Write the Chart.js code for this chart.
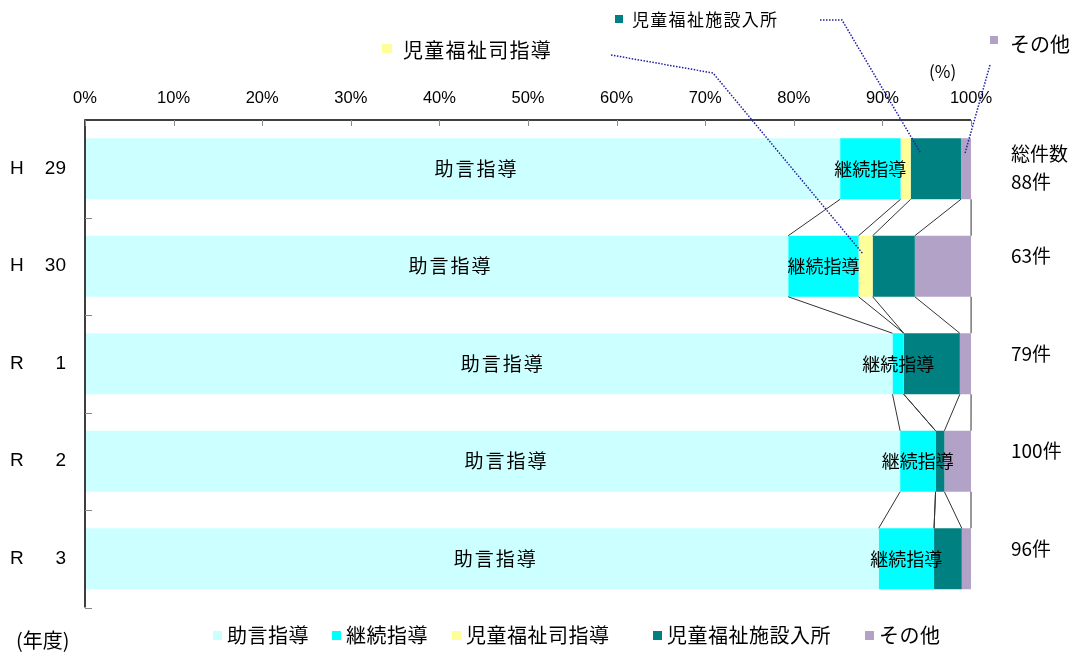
<!DOCTYPE html>
<html lang="ja">
<head>
<meta charset="utf-8">
<title>指導結果の推移</title>
<script src="https://cdn.jsdelivr.net/npm/chart.js@4.4.0/dist/chart.umd.min.js"></script>
<style>
  html, body { margin: 0; padding: 0; background: #fff; }
  #chart { display: block; }
</style>
</head>
<body>
<canvas id="chart" width="1078" height="652"></canvas>
<script>
// 年度 (元号 + 年)
const yearEra = ["H", "H", "R", "R", "R"];
const yearNum = ["29", "30", "1", "2", "3"];
const years = ["H29", "H30", "R1", "R2", "R3"];

// 総件数
const totals = [88, 63, 79, 100, 96];

// 割合 (%)
const jogen = [85.23, 79.37, 91.14, 92.0, 89.58];      // 助言指導
const keizoku = [6.82, 7.94, 1.27, 4.0, 6.25];         // 継続指導
const jifukushi = [1.14, 1.59, 0, 0, 0];               // 児童福祉司指導
const shisetsu = [5.68, 4.76, 6.33, 1.0, 3.13];        // 児童福祉施設入所
const sonota = [1.14, 6.35, 1.27, 3.0, 1.04];          // その他

// 目盛
const xTickValues = [0, 10, 20, 30, 40, 50, 60, 70, 80, 90, 100];

const F = '"Noto Sans CJK JP", "Noto Sans", sans-serif';
const FL = '"Liberation Sans", Arial, sans-serif';

function txt(ctx, s, x, y, size, align, spacing, family) {
    ctx.font = size + "px " + (family || F);
    ctx.textAlign = align || "left";
    ctx.textBaseline = "middle";
    ctx.letterSpacing = (spacing || 0) + "px";
    ctx.fillStyle = "#000";
    ctx.fillText(s, x, y);
    ctx.letterSpacing = "0px";
}

function seg(chart, ds, i) {
    return chart.getDatasetMeta(ds).data[i].getProps(["x", "y", "base", "height"], true);
}

// 系列線・ラベル・軸など
const decorations = {
    id: "decorations",
    afterDatasetsDraw(chart) {
        const ctx = chart.ctx;
        const area = chart.chartArea;
        const xs = chart.scales.x;
        const ys = chart.scales.y;
        const n = chart.data.datasets.length;

        ctx.save();

        // 区分線 (系列線)
        ctx.strokeStyle = "#333";
        ctx.lineWidth = 1;
        ctx.beginPath();
        for (let i = 0; i < years.length - 1; i++) {
            for (let d = 0; d < n; d++) {
                const a = seg(chart, d, i);
                const b = seg(chart, d, i + 1);
                ctx.moveTo(a.x, a.y + a.height / 2);
                ctx.lineTo(b.x, b.y - b.height / 2);
            }
        }
        ctx.stroke();

        // 軸線
        ctx.strokeStyle = "#000";
        ctx.lineWidth = 1.5;
        ctx.beginPath();
        ctx.moveTo(area.left, area.bottom);
        ctx.lineTo(area.left, area.top);
        ctx.lineTo(area.right, area.top);
        ctx.stroke();

        // 目盛線
        ctx.strokeStyle = "#888";
        ctx.lineWidth = 1;
        ctx.beginPath();
        xTickValues.forEach((v) => {
            const px = Math.round(xs.getPixelForValue(v)) + 0.5;
            ctx.moveTo(px, area.top);
            ctx.lineTo(px, area.top + 6);
        });
        for (let i = 0; i < years.length; i++) {
            let py;
            if (i < years.length - 1) {
                py = (ys.getPixelForValue(i) + ys.getPixelForValue(i + 1)) / 2;
            } else {
                py = area.bottom;
            }
            py = Math.round(py) + 0.5;
            ctx.moveTo(area.left, py);
            ctx.lineTo(area.left + 7, py);
        }
        ctx.stroke();

        // 目盛ラベル
        xTickValues.forEach((v) => {
            txt(ctx, v + "%", xs.getPixelForValue(v), 98, 16.5, "center", 0, FL);
        });
        txt(ctx, "(%)", 929, 72, 17, "left");

        // 年度ラベルと総件数
        for (let i = 0; i < years.length; i++) {
            const cy = ys.getPixelForValue(i);
            txt(ctx, yearEra[i], 10, cy, 19, "left", 0, FL);
            txt(ctx, yearNum[i], 66, cy, 19, "right", 0, FL);
            if (i === 0) {
                txt(ctx, "総件数", 1011, cy - 15, 19, "left");
                txt(ctx, totals[i] + "件", 1011, cy + 13, 19, "left");
            } else {
                txt(ctx, totals[i] + "件", 1011, cy - 10, 19, "left");
            }
        }

        // 棒の中のラベル
        for (let i = 0; i < years.length; i++) {
            const a = seg(chart, 0, i);
            txt(ctx, "助言指導", (a.base + a.x) / 2 + 14, a.y, 19, "center", 2);
            const b = seg(chart, 1, i);
            txt(ctx, "継続指導", (b.base + b.x) / 2, b.y, 18, "center");
        }

        // 引き出し線
        ctx.strokeStyle = "#1f1fa0";
        ctx.lineWidth = 1.5;
        ctx.setLineDash([1.5, 1.5]);
        const y30 = seg(chart, 2, 1);
        const t29 = seg(chart, 3, 0);
        const s29 = seg(chart, 4, 0);
        ctx.beginPath();
        ctx.moveTo(611, 55);
        ctx.lineTo(713, 73);
        ctx.lineTo(y30.base + (y30.x - y30.base) * 0.3, y30.y - y30.height / 2 + 18);
        ctx.moveTo(820, 20);
        ctx.lineTo(842, 20);
        ctx.lineTo(t29.base + (t29.x - t29.base) * 0.2, t29.y - t29.height / 2 + 15);
        ctx.moveTo(990, 65);
        ctx.lineTo(s29.base + (s29.x - s29.base) * 0.4, s29.y - s29.height / 2 + 15);
        ctx.stroke();
        ctx.setLineDash([]);

        ctx.restore();
    },
    afterDraw(chart) {
        const ctx = chart.ctx;
        const ds = chart.data.datasets;
        ctx.save();

        // 引き出しラベル
        ctx.fillStyle = ds[2].backgroundColor;
        ctx.fillRect(382, 44, 10, 9);
        txt(ctx, ds[2].label, 403, 50, 20, "left", 1.3);
        ctx.fillStyle = ds[3].backgroundColor;
        ctx.fillRect(615, 15, 8, 8);
        txt(ctx, ds[3].label, 632, 20, 17, "left", 1.3);
        ctx.fillStyle = ds[4].backgroundColor;
        ctx.fillRect(990, 36, 8, 8);
        txt(ctx, ds[4].label, 1010, 44, 20, "left");

        // 凡例
        const legendX = [213, 332, 452, 653, 865];
        ds.forEach((d, i) => {
            ctx.fillStyle = d.backgroundColor;
            ctx.fillRect(legendX[i], 631, 9, 9);
            txt(ctx, d.label, legendX[i] + 14, 635, 20, "left", 0.5);
        });

        txt(ctx, "(年度)", 16, 640, 20, "left");
        ctx.restore();
    },
};

const ctx = document.getElementById("chart").getContext("2d");
const chart = new Chart(ctx, {
    type: "bar",
    data: {
        labels: years,
        datasets: [
            { label: "助言指導", data: jogen, backgroundColor: "#CCFFFF" },
            { label: "継続指導", data: keizoku, backgroundColor: "#00FFFF" },
            { label: "児童福祉司指導", data: jifukushi, backgroundColor: "#FFFF99" },
            { label: "児童福祉施設入所", data: shisetsu, backgroundColor: "#008080" },
            { label: "その他", data: sonota, backgroundColor: "#B2A2C7" },
        ],
    },
    options: {
        indexAxis: "y",
        responsive: false,
        animation: false,
        borderWidth: 0,
        barPercentage: 0.626,
        categoryPercentage: 1,
        layout: { padding: { left: 85, top: 120, right: 107, bottom: 44.5 } },
        scales: {
            x: {
                display: false,
                stacked: true,
                min: 0,
                max: 100,
                afterBuildTicks: (scale) => {
                    scale.ticks = xTickValues.map((v) => ({ value: v }));
                },
            },
            y: { display: false, stacked: true },
        },
        plugins: {
            legend: { display: false },
            tooltip: { enabled: false },
        },
    },
    plugins: [decorations],
});
</script>
</body>
</html>
